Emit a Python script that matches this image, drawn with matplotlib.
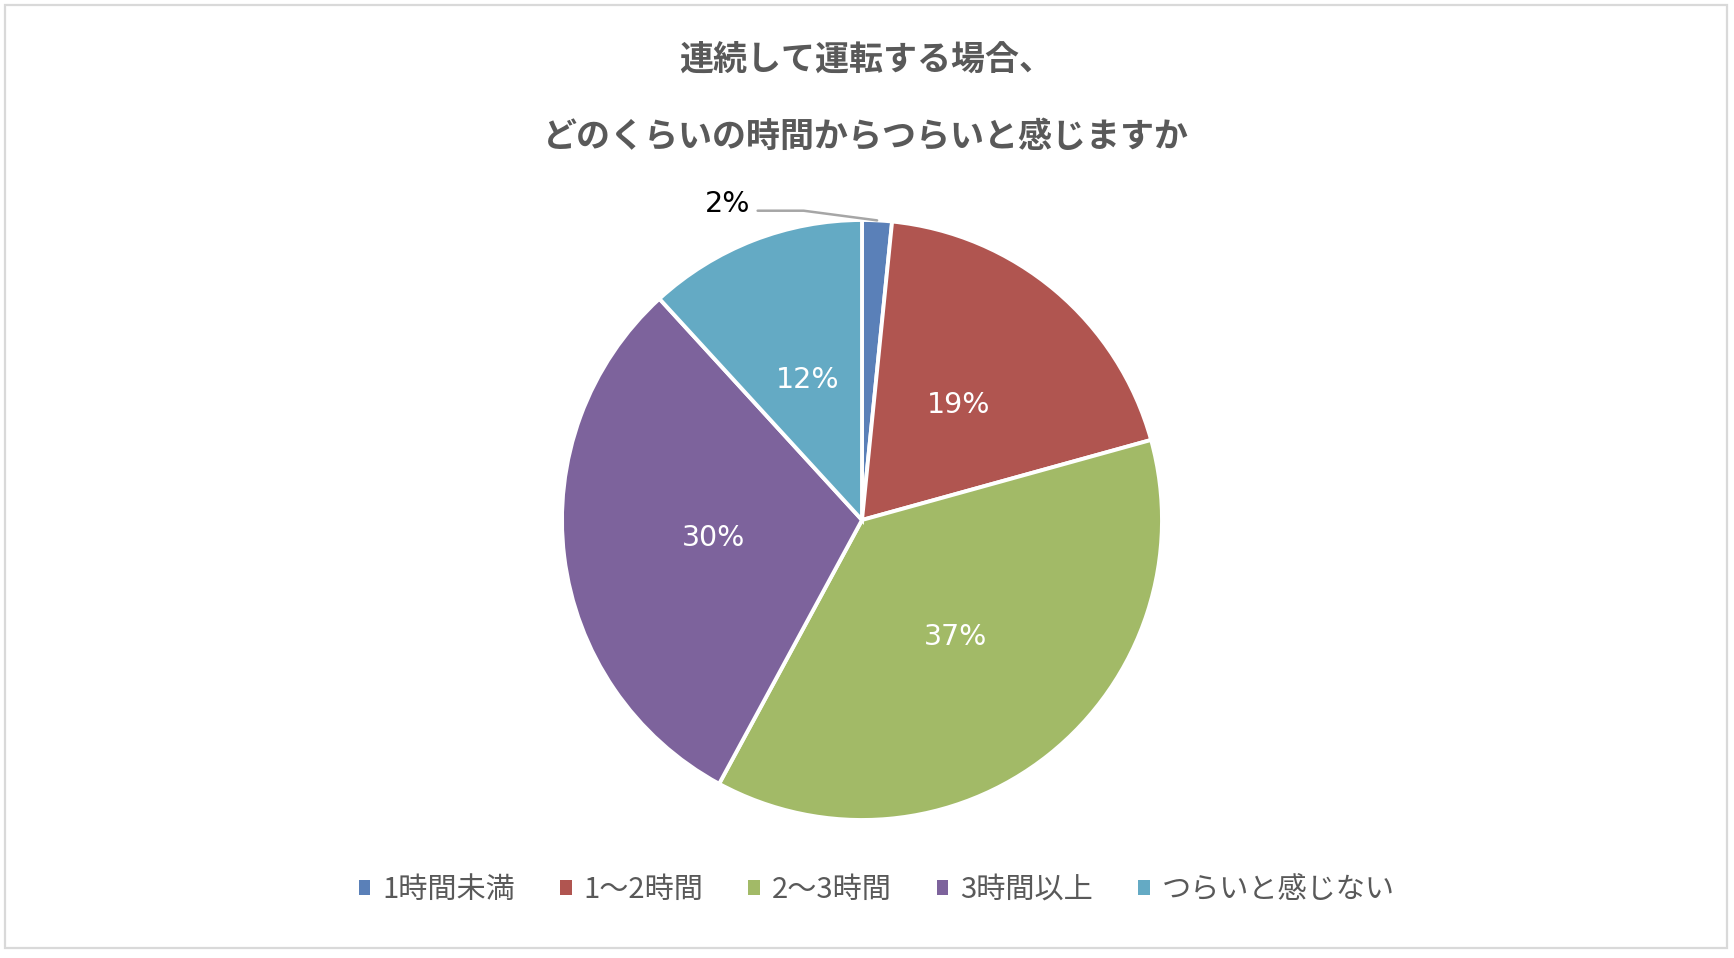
import matplotlib
matplotlib.use("Agg")
import matplotlib.pyplot as plt
from matplotlib.patches import Patch, Rectangle
import numpy as np

plt.rcParams['font.family'] = ['Noto Sans CJK JP', 'DejaVu Sans']

# data (share of respondents, %)
categories = ['1時間未満', '1～2時間', '2～3時間', '3時間以上', 'つらいと感じない']
shares = [1.6, 19.1, 37.2, 30.3, 11.8]
colors = ['#5A80B8', '#B05550', '#A2BA67', '#7D639C', '#64AAC4']
title = '連続して運転する場合、\nどのくらいの時間からつらいと感じますか'

W, H = 1734, 958
fig = plt.figure(figsize=(W / 100, H / 100), dpi=100)

# light grey frame round the chart
fig.patches.append(Rectangle((5 / W, 10 / H), 1722 / W, 943 / H, transform=fig.transFigure,
                             fill=False, edgecolor='#D9D9D9', linewidth=1.6))

# pie area: centre ~ (862, 520) px, radius ~ 300 px
r = 300
ax = fig.add_axes([(862 - r) / W, (H - 520 - r) / H, 2 * r / W, 2 * r / H])
wedges, texts, autotexts = ax.pie(shares, colors=colors, startangle=90, counterclock=False,
                                  autopct='%.0f%%', pctdistance=0.5, radius=1.0,
                                  wedgeprops=dict(edgecolor='white', linewidth=2.8),
                                  textprops=dict(color='white', fontsize=20.5,
                                                 family=['DejaVu Sans']))
ax.set_xlim(-1, 1)
ax.set_ylim(-1, 1)
ax.set_aspect('equal')

# the tiny first slice gets its label outside with a leader line
w0 = wedges[0]
autotexts[0].set_visible(False)
mid = np.deg2rad((w0.theta1 + w0.theta2) / 2)
ax.annotate(autotexts[0].get_text(), xy=(np.cos(mid), np.sin(mid)),
            xytext=(-91, 12), textcoords='offset points', ha='right', va='center',
            fontsize=20.5, color='black', family=['DejaVu Sans'],
            arrowprops=dict(arrowstyle='-', color='#A6A6A6', lw=1.8, shrinkA=3, shrinkB=0,
                            relpos=(1.0, 0.25),
                            connectionstyle='angle,angleA=0,angleB=172.5,rad=0'))

fig.text(866 / W, 1 - 98 / H, title, ha='center', va='center', fontsize=24.5,
         fontweight='bold', color='#595959', linespacing=2.5)

handles = [Patch(facecolor=c, edgecolor='none') for c in colors]
fig.legend(handles, categories, loc='center', bbox_to_anchor=(0.5055, 1 - 890 / H), ncol=5,
           frameon=False, fontsize=21, labelcolor='#595959', handlelength=0.4,
           handleheight=0.4, handletextpad=0.4, columnspacing=1.55)

fig.savefig('out.png', dpi=100, facecolor='white')
